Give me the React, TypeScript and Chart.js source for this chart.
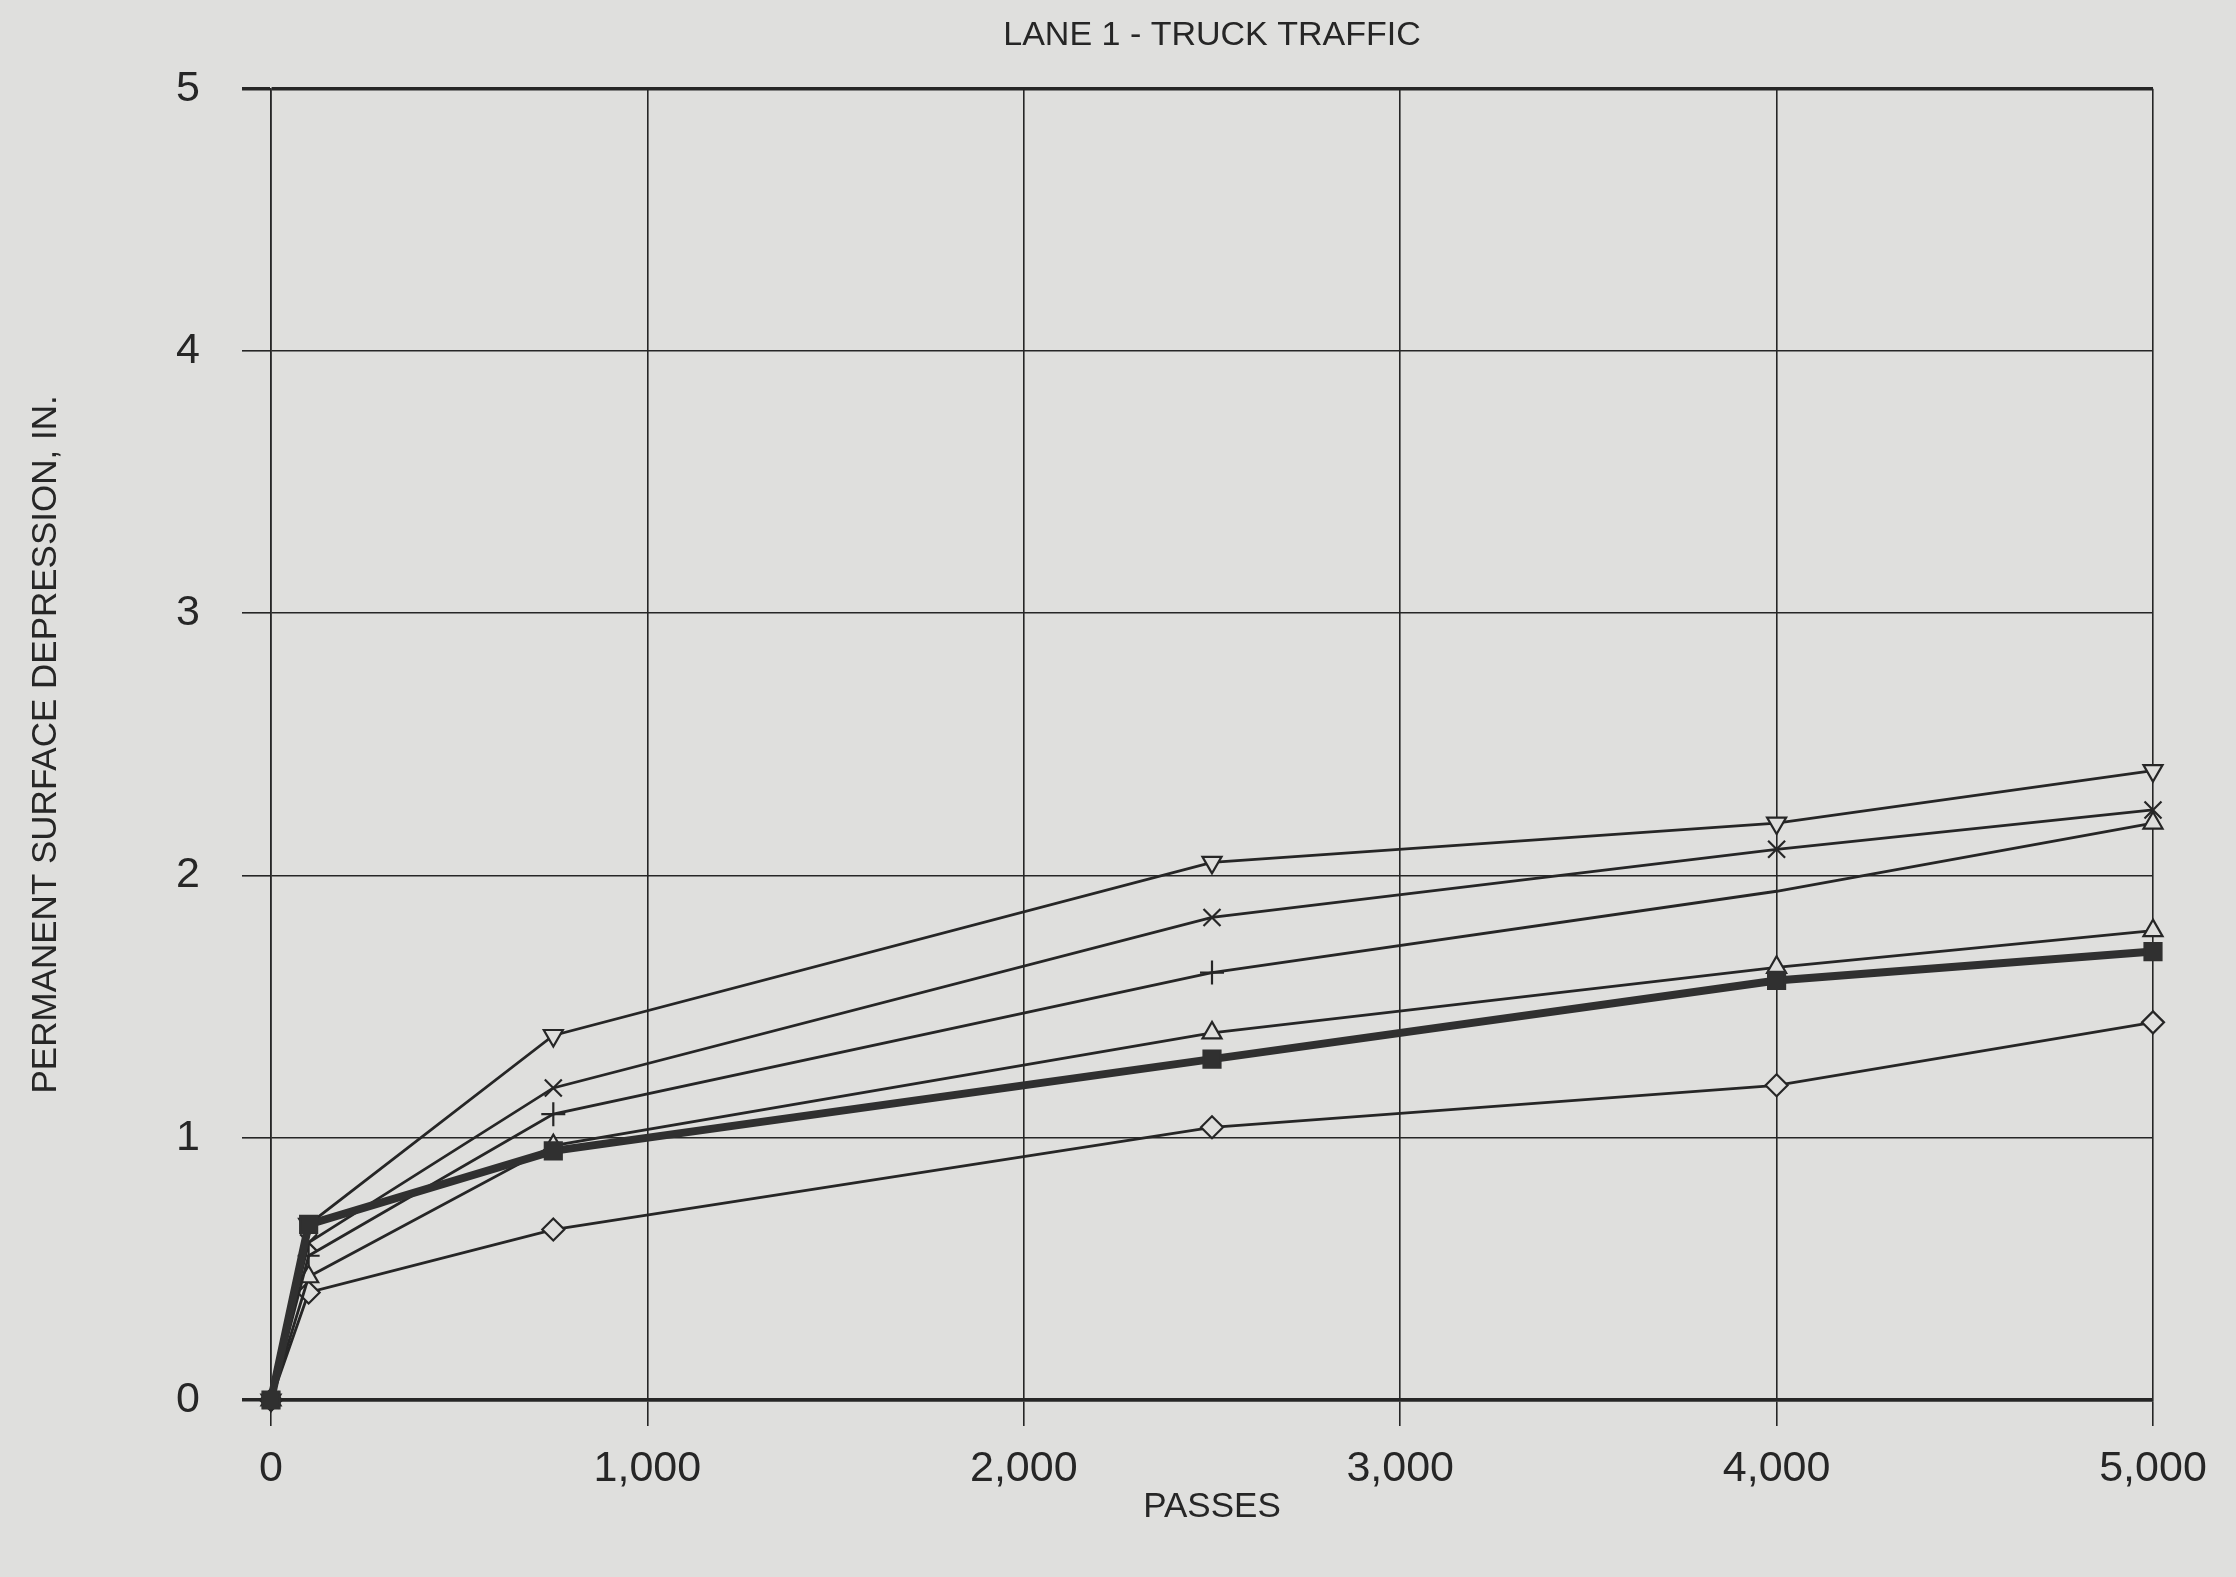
import React, { useEffect, useRef } from "react";
import { Chart, registerables } from "chart.js";

Chart.register(...registerables);

const passes = [0, 100, 750, 2500, 4000, 5000];
const xTickLabels = ["0", "1,000", "2,000", "3,000", "4,000", "5,000"];
const yTickLabels = ["0", "1", "2", "3", "4", "5"];

const seriesInvTriangle = [0, 0.67, 1.39, 2.05, 2.2, 2.4];
const seriesX = [0, 0.6, 1.19, 1.84, 2.1, 2.25];
const seriesPlus = [0, 0.55, 1.09, 1.63, 1.94, 2.2];
const seriesTriangle = [0, 0.47, 0.97, 1.4, 1.65, 1.79];
const seriesSquare = [0, 0.67, 0.95, 1.3, 1.6, 1.71];
const seriesDiamond = [0, 0.41, 0.65, 1.04, 1.2, 1.44];

const BG = "#dfdfdd";
const INK = "#262626";
const FONT = "'Liberation Sans', Arial, sans-serif";

const toPts = (ys: number[]) => passes.map((x, i) => ({ x, y: ys[i] }));

export default function App() {
  const ref = useRef<HTMLCanvasElement | null>(null);

  useEffect(() => {
    if (!ref.current) return;
    const bgPlugin = {
      id: "bg",
      beforeDraw(chart: any) {
        const c = chart.ctx;
        c.save();
        c.fillStyle = BG;
        c.fillRect(0, 0, chart.width, chart.height);
        c.restore();
      },
    };
    const thin = {
      showLine: true,
      clip: false,
      borderColor: INK,
      borderWidth: 2.8,
      pointBorderColor: INK,
      pointBackgroundColor: BG,
      pointBorderWidth: 2.2,
      pointRadius: 11,
      order: 1,
    };
    const chart = new Chart(ref.current, {
      type: "scatter",
      data: {
        datasets: [
          {
            ...thin,
            label: "inv-triangle",
            data: toPts(seriesInvTriangle),
            pointStyle: "triangle",
            rotation: 180,
          },
          {
            ...thin,
            label: "x",
            data: toPts(seriesX),
            pointStyle: "crossRot",
            pointRadius: 12,
          },
          {
            ...thin,
            label: "plus",
            data: toPts(seriesPlus),
            pointStyle: ["cross", "cross", "cross", "cross", "cross", "triangle"],
            pointRadius: [11, 11, 12, 12, 0, 11],
          },
          {
            ...thin,
            label: "triangle",
            data: toPts(seriesTriangle),
            pointStyle: "triangle",
          },
          {
            ...thin,
            label: "square",
            data: toPts(seriesSquare),
            pointStyle: "rect",
            pointBackgroundColor: "#303030",
            pointBorderColor: "#303030",
            pointRadius: 12,
            borderWidth: 8,
            borderColor: "#303030",
            order: 0,
          },
          {
            ...thin,
            label: "diamond",
            data: toPts(seriesDiamond),
            pointStyle: "rectRot",
          },
        ],
      },
      options: {
        responsive: false,
        animation: false,
        devicePixelRatio: 1,
        layout: { padding: { left: 0, right: 83, top: 0, bottom: 0 } },
        plugins: {
          legend: { display: false },
          tooltip: { enabled: false },
          title: {
            display: true,
            fullSize: false,
            text: "LANE 1 - TRUCK TRAFFIC",
            color: INK,
            font: { family: FONT, size: 34, weight: "normal" },
            padding: { top: 15, bottom: 33 },
          },
        },
        elements: { line: { tension: 0 } },
        scales: {
          x: {
            type: "linear",
            min: 0,
            max: 5000,
            afterFit: (s: any) => {
              s.height = 177;
            },
            ticks: {
              stepSize: 1000,
              color: INK,
              padding: 17,
              maxRotation: 0,
              font: { family: FONT, size: 43 },
              callback: (v: any) => xTickLabels[Math.round(Number(v) / 1000)] ?? "",
            },
            grid: {
              color: INK,
              lineWidth: 1.6,
              tickLength: 26,
              drawTicks: true,
            },
            border: { display: true, color: INK, width: 3.5 },
            title: {
              display: true,
              text: "PASSES",
              color: INK,
              font: { family: FONT, size: 35 },
              padding: { top: 0, bottom: 49 },
            },
          },
          y: {
            type: "linear",
            min: 0,
            max: 5,
            afterFit: (s: any) => {
              s.width = 271;
            },
            ticks: {
              stepSize: 1,
              color: INK,
              padding: 42,
              font: { family: FONT, size: 43 },
              callback: (v: any) => yTickLabels[Math.round(Number(v))] ?? "",
            },
            grid: {
              color: INK,
              lineWidth: (ctx: any) =>
                ctx.tick && (ctx.tick.value === 5 || ctx.tick.value === 0) ? 3.5 : 1.6,
              tickLength: 29,
              drawTicks: true,
            },
            border: { display: true, color: INK, width: 1.6 },
            title: {
              display: true,
              text: "PERMANENT SURFACE DEPRESSION, IN.",
              color: INK,
              font: { family: FONT, size: 35 },
              padding: { top: 25, bottom: 0 },
            },
          },
        },
      } as any,
      plugins: [bgPlugin],
    });
    return () => chart.destroy();
  }, []);

  return (
    <div
      style={{
        position: "absolute",
        left: 0,
        top: 0,
        width: 2236,
        height: 1577,
        background: BG,
        overflow: "hidden",
      }}
    >
      <canvas ref={ref} width={2236} height={1577} style={{ display: "block" }} />
    </div>
  );
}
